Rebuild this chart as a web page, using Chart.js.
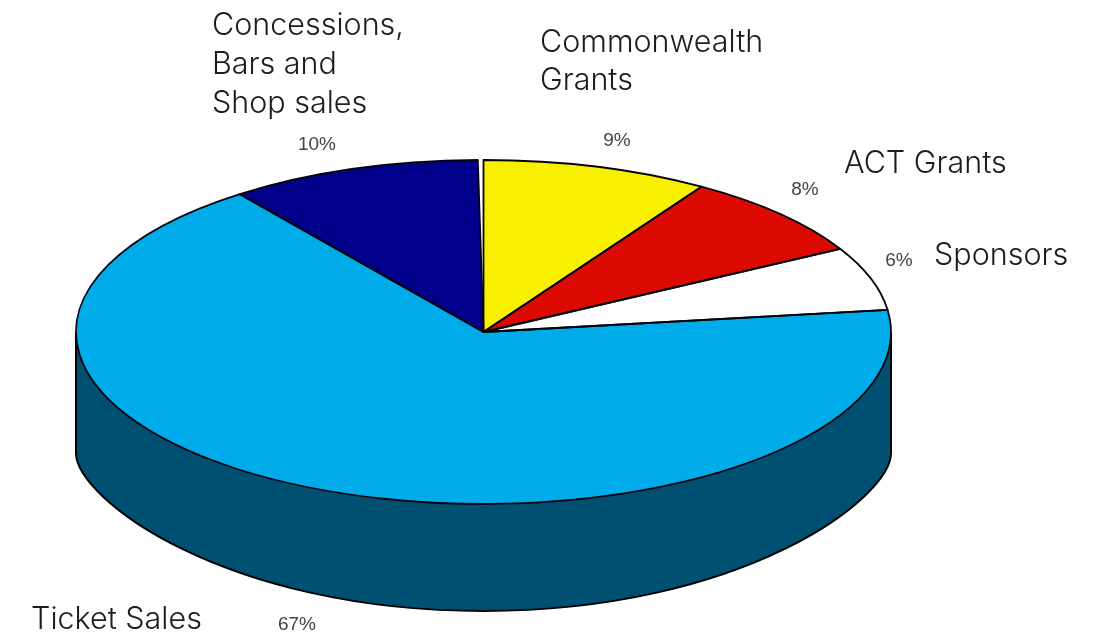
<!DOCTYPE html>
<html>
<head>
<meta charset="utf-8">
<title>Income by source</title>
<script src="https://cdn.jsdelivr.net/npm/chart.js@4/dist/chart.umd.min.js"></script>
<style>
  html, body { margin: 0; padding: 0; background: #fff; }
  #wrap { width: 1100px; height: 637px; }
</style>
</head>
<body>
<div id="wrap"><canvas id="incomeChart" width="1100" height="637"></canvas></div>
<script>
// Income shares, clockwise from twelve o'clock
const sources = ["Commonwealth Grants", "ACT Grants", "Sponsors", "Ticket Sales", "Concessions, Bars and Shop sales"];
const shares = [9, 8, 6, 67, 10];

const topColors = ["#f8f000", "#dd0a02", "#ffffff", "#00abe9", "#00008a"];
// only the Ticket Sales slice reaches the front of the pie
const wallColor = "#005072";

// Text placement: one entry per source, same order as above
const captionLines = [["Commonwealth", "Grants"], ["ACT Grants"], ["Sponsors"], ["Ticket Sales"], ["Concessions,", "Bars and", "Shop sales"]];
const captionAt = [[540, 52], [844, 173], [934, 265], [31, 629], [212, 35]];
const captionStep = [38, 0, 0, 0, 39];
const percentAt = [[617, 141], [805, 190], [899, 261], [297, 625], [317, 145]];

// Pie geometry in pixels
const radiusX = 407.5;
const radiusY = 172;
const wallEdge = 121;   // straight part of the wall at both sides
const wallBottom = 279; // lowest point of the wall below the centre

// Squashes the flat pie into an ellipse and adds the side wall and outlines
const tiltedPie = {
  id: "tiltedPie",
  beforeDatasetsDraw(chart) {
    const ctx = chart.ctx;
    const { x: cx, y: cy } = chart.getDatasetMeta(0).data[0];

    // lower rim as two curves, left corner to bottom to right corner
    ctx.beginPath();
    ctx.moveTo(cx - radiusX, cy);
    ctx.lineTo(cx - radiusX, cy + wallEdge);
    ctx.bezierCurveTo(cx - radiusX, cy + wallEdge + 45, cx - 260, cy + wallBottom, cx, cy + wallBottom);
    ctx.bezierCurveTo(cx + 260, cy + wallBottom, cx + radiusX, cy + wallEdge + 45, cx + radiusX, cy + wallEdge);
    ctx.lineTo(cx + radiusX, cy);
    ctx.fillStyle = wallColor;
    ctx.fill();
    ctx.strokeStyle = "#000";
    ctx.lineWidth = 2;
    ctx.stroke();

    ctx.save();
    ctx.translate(cx, cy);
    ctx.scale(1, radiusY / radiusX);
    ctx.translate(-cx, -cy);
  },
  afterDatasetsDraw(chart) {
    const ctx = chart.ctx;
    ctx.restore();

    const arcs = chart.getDatasetMeta(0).data;
    arcs.forEach((arc) => {
      ctx.beginPath();
      ctx.moveTo(arc.x, arc.y);
      ctx.ellipse(arc.x, arc.y, radiusX, radiusY, 0, arc.startAngle, arc.endAngle);
      ctx.closePath();
      ctx.strokeStyle = "#04040c";
      ctx.lineWidth = 1.8;
      ctx.lineJoin = "round";
      ctx.stroke();
    });
  },
  afterDraw(chart) {
    const ctx = chart.ctx;
    ctx.save();
    ctx.textAlign = "left";
    ctx.textBaseline = "alphabetic";
    ctx.fillStyle = "#1c1c1c";
    ctx.font = '300 30.5px Inter, Roboto, "Liberation Sans", sans-serif';
    captionLines.forEach((lines, i) => {
      lines.forEach((line, n) => {
        ctx.fillText(line, captionAt[i][0], captionAt[i][1] + n * captionStep[i]);
      });
    });

    ctx.fillStyle = "#444444";
    ctx.font = '19px "Liberation Sans", sans-serif';
    ctx.textAlign = "center";
    ctx.textBaseline = "middle";
    shares.forEach((share, i) => {
      ctx.fillText(share + "%", percentAt[i][0], percentAt[i][1]);
    });
    ctx.restore();
  },
};

const ctx = document.getElementById("incomeChart").getContext("2d");
new Chart(ctx, {
  type: "pie",
  data: {
    labels: sources,
    datasets: [
      {
        data: shares,
        backgroundColor: topColors,
        borderWidth: 0,
        clip: false,
      },
    ],
  },
  options: {
    responsive: false,
    animation: false,
    events: [],
    radius: radiusX,
    circumference: 359.2,
    // moves the pie centre to (483.5, 332)
    layout: { padding: { left: 0, right: 133, top: 27, bottom: 0 } },
    plugins: {
      legend: { display: false },
      tooltip: { enabled: false },
    },
  },
  plugins: [tiltedPie],
});
</script>
</body>
</html>
